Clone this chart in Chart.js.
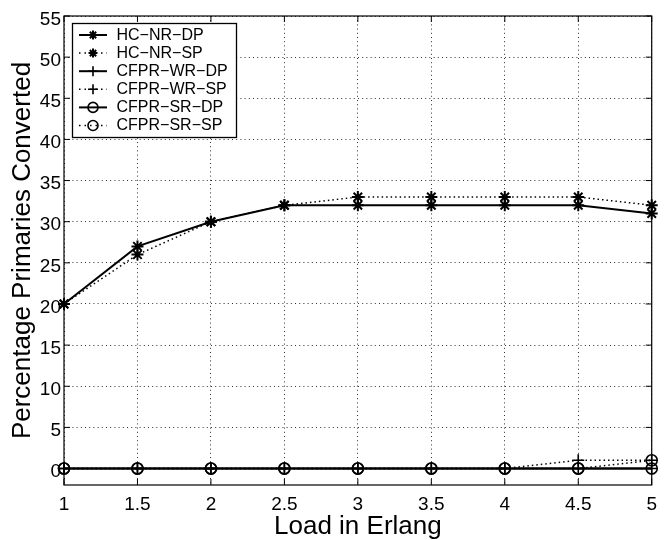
<!DOCTYPE html>
<html><head><meta charset="utf-8">
<style>html,body{margin:0;padding:0;background:#fff}#wrap{width:665px;height:540px}</style>
<script src="https://cdn.jsdelivr.net/npm/chart.js@4.4.1/dist/chart.umd.min.js"></script>
</head><body><div id="wrap"><canvas id="c" width="665" height="540"></canvas></div>
<script>
const loads = [1, 1.5, 2, 2.5, 3, 3.5, 4, 4.5, 5];
const hcNrDp = [20, 27, 30, 32, 32, 32, 32, 32, 31];
const hcNrSp = [20, 26, 30, 32, 33, 33, 33, 33, 32];
const cfprWrDp = [0, 0, 0, 0, 0, 0, 0, 0, 0];
const cfprWrSp = [0, 0, 0, 0, 0, 0, 0, 1, 1];
const cfprSrDp = [0, 0, 0, 0, 0, 0, 0, 0, 0];
const cfprSrSp = [0, 0, 0, 0, 0, 0, 0, 0, 1];
const seriesLabels = ['HC\u2212NR\u2212DP', 'HC\u2212NR\u2212SP', 'CFPR\u2212WR\u2212DP', 'CFPR\u2212WR\u2212SP', 'CFPR\u2212SR\u2212DP', 'CFPR\u2212SR\u2212SP'];
const xTicks = [1, 1.5, 2, 2.5, 3, 3.5, 4, 4.5, 5];
const yTicks = [0, 5, 10, 15, 20, 25, 30, 35, 40, 45, 50, 55];
const xTitle = 'Load in Erlang';
const yTitle = 'Percentage Primaries Converted';

const FONT = 'Liberation Sans, Arial, Helvetica, sans-serif';
const solid = [];
const dotted = [1.5, 3];
const toXY = arr => arr.map((v, i) => ({ x: loads[i], y: v }));
const styles = [
  { data: hcNrDp, dash: solid, pt: 'star', w: 2 },
  { data: hcNrSp, dash: dotted, pt: 'star', w: 1.5 },
  { data: cfprWrDp, dash: solid, pt: 'cross', w: 2 },
  { data: cfprWrSp, dash: dotted, pt: 'cross', w: 1.5 },
  { data: cfprSrDp, dash: solid, pt: 'circle', w: 2 },
  { data: cfprSrSp, dash: dotted, pt: 'circle', w: 1.5 }
];
const datasets = styles.map((s, i) => ({
  label: seriesLabels[i],
  data: toXY(s.data),
  borderColor: '#000',
  backgroundColor: 'rgba(0,0,0,0)',
  borderWidth: s.w,
  borderDash: s.dash,
  pointStyle: s.pt,
  pointRadius: s.pt === 'circle' ? 5.5 : 6,
  pointBorderWidth: s.pt === 'star' ? 2 : 1.6,
  pointBorderColor: '#000',
  pointBackgroundColor: 'rgba(0,0,0,0)',
  tension: 0,
  clip: false
}));

function drawMarker(ctx, style, x, y, r) {
  ctx.save();
  ctx.setLineDash([]);
  ctx.beginPath();
  if (style === 'circle') {
    ctx.arc(x, y, r, 0, Math.PI * 2);
  } else {
    const angles = style === 'star' ? [0, 45, 90, 135] : [0, 90];
    angles.forEach(a => {
      const rad = a * Math.PI / 180;
      const dx = Math.cos(rad) * r, dy = Math.sin(rad) * r;
      ctx.moveTo(x - dx, y - dy); ctx.lineTo(x + dx, y + dy);
    });
  }
  ctx.stroke();
  ctx.restore();
}

const framePlugin = {
  id: 'frame',
  beforeDatasetsDraw(chart) {
    const { ctx, chartArea: a, scales } = chart;
    ctx.save();
    ctx.strokeStyle = '#000';
    ctx.lineWidth = 1.2;
    ctx.setLineDash([]);
    ctx.strokeRect(a.left, a.top, a.right - a.left, a.bottom - a.top);
    const L = 6;
    ctx.beginPath();
    xTicks.forEach(v => {
      const px = scales.x.getPixelForValue(v);
      ctx.moveTo(px, a.bottom); ctx.lineTo(px, a.bottom - L);
      ctx.moveTo(px, a.top); ctx.lineTo(px, a.top + L);
    });
    yTicks.forEach(v => {
      const py = scales.y.getPixelForValue(v);
      ctx.moveTo(a.left, py); ctx.lineTo(a.left + L, py);
      ctx.moveTo(a.right, py); ctx.lineTo(a.right - L, py);
    });
    ctx.lineWidth = 1;
    ctx.stroke();
    ctx.restore();
  },
  afterDraw(chart) {
    const ctx = chart.ctx;
    const bx = 72.5, by = 23.5, bw = 164, bh = 114;
    ctx.save();
    ctx.fillStyle = '#fff';
    ctx.fillRect(bx, by, bw, bh);
    ctx.strokeStyle = '#000';
    ctx.lineWidth = 1.3;
    ctx.setLineDash([]);
    ctx.strokeRect(bx, by, bw, bh);
    ctx.font = '16px ' + FONT;
    ctx.textBaseline = 'middle';
    ctx.textAlign = 'left';
    ctx.fillStyle = '#000';
    styles.forEach((s, i) => {
      const y = 35 + i * 18.1;
      ctx.save();
      ctx.lineWidth = s.w;
      ctx.setLineDash(s.dash.length ? [1.5, 4] : []);
      ctx.beginPath();
      ctx.moveTo(79, y); ctx.lineTo(107, y);
      ctx.stroke();
      ctx.restore();
      ctx.lineWidth = s.pt === 'star' ? 2 : 1.6;
      drawMarker(ctx, s.pt, 93, y, s.pt === 'star' ? 4.5 : 5);
      ctx.fillText(seriesLabels[i], 116.5, y + 0.5);
    });
    ctx.restore();
  }
};

new Chart(document.getElementById('c'), {
  type: 'line',
  data: { datasets },
  options: {
    responsive: false,
    animation: false,
    devicePixelRatio: 1,
    layout: { padding: { left: 0, right: 7, top: 16, bottom: 0 } },
    plugins: { legend: { display: false }, tooltip: { enabled: false } },
    scales: {
      x: {
        type: 'linear', min: 1, max: 5,
        afterBuildTicks: s => { s.ticks = xTicks.map(v => ({ value: v })); },
        afterFit: s => { s.height = 55; },
        ticks: { color: '#000', font: { family: FONT, size: 19 }, padding: 8, maxRotation: 0, autoSkip: false,
                 callback: v => String(v) },
        grid: { color: '#333', lineWidth: 1, drawTicks: false },
        border: { display: false, dash: [1, 3.2] },
        title: { display: true, text: xTitle, color: '#000', font: { family: FONT, size: 26, lineHeight: 1 }, padding: { top: 0, bottom: 0 } }
      },
      y: {
        type: 'linear', min: -2, max: 55,
        afterBuildTicks: s => { s.ticks = yTicks.map(v => ({ value: v })); },
        afterFit: s => { s.width = 64; },
        ticks: { color: '#000', font: { family: FONT, size: 19 }, padding: 3, labelOffset: 3.5, autoSkip: false,
                 callback: v => String(v) },
        grid: { color: '#333', lineWidth: 1, drawTicks: false },
        border: { display: false, dash: [1, 3.2] },
        title: { display: true, text: yTitle, color: '#000', font: { family: FONT, size: 26, lineHeight: 1 }, padding: { top: 9.5, bottom: 0 } }
      }
    }
  },
  plugins: [framePlugin]
});
</script>
</body></html>
